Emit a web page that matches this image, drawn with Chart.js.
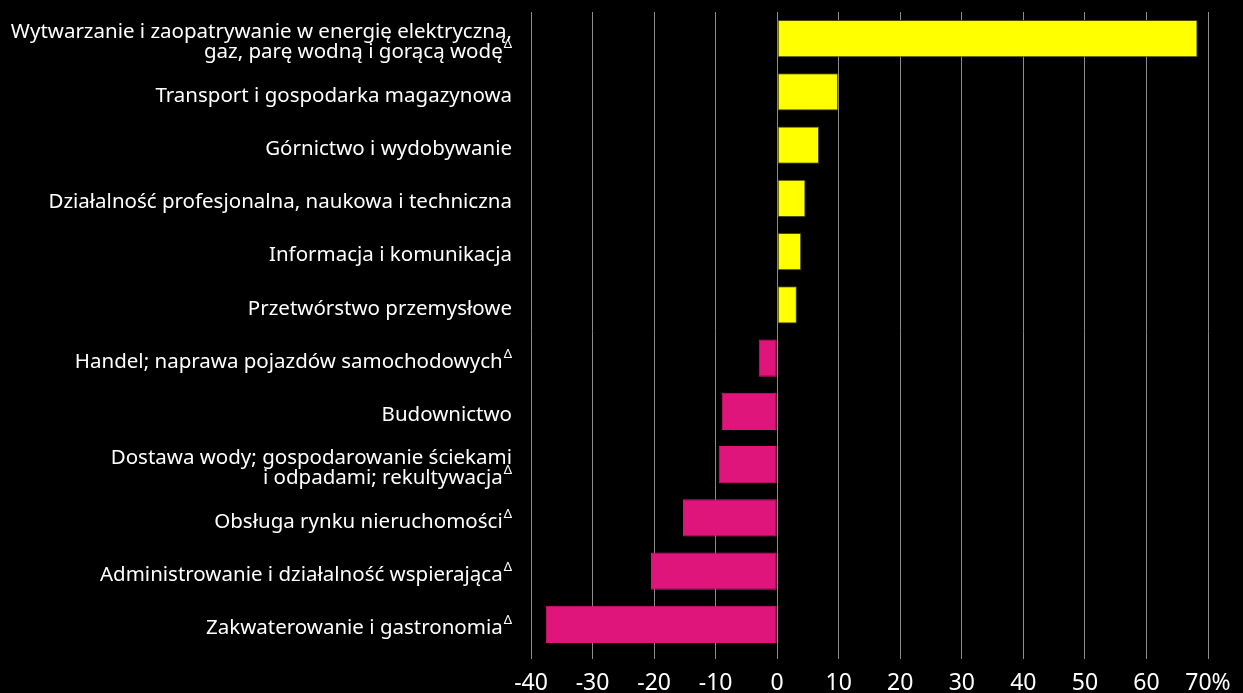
<!DOCTYPE html>
<html>
<head>
<meta charset="utf-8">
<script src="https://cdn.jsdelivr.net/npm/chart.js@4/dist/chart.umd.min.js"></script>
<style>
  html, body { margin: 0; padding: 0; background: #000; }
  #wrap { width: 1243px; height: 693px; position: relative; }
</style>
</head>
<body>
<div id="wrap"><canvas id="myChart"></canvas></div>
<script>
// categories (lines of each label) and whether it carries the Δ mark
const categories = [
    ['Wytwarzanie i zaopatrywanie w energię elektryczną,', 'gaz, parę wodną i gorącą wodę'],
    ['Transport i gospodarka magazynowa'],
    ['Górnictwo i wydobywanie'],
    ['Działalność profesjonalna, naukowa i techniczna'],
    ['Informacja i komunikacja'],
    ['Przetwórstwo przemysłowe'],
    ['Handel; naprawa pojazdów samochodowych'],
    ['Budownictwo'],
    ['Dostawa wody; gospodarowanie ściekami', 'i odpadami; rekultywacja'],
    ['Obsługa rynku nieruchomości'],
    ['Administrowanie i działalność wspierająca'],
    ['Zakwaterowanie i gastronomia']
];
const deltaMark = [true, false, false, false, false, false, true, false, true, true, true, true];
const values = [68.3, 9.9, 6.8, 4.6, 3.9, 3.2, -3.0, -9.0, -9.5, -15.3, -20.5, -37.6];
const tickValues = [-40, -30, -20, -10, 0, 10, 20, 30, 40, 50, 60, 70];

const labelFont = '20.5px "Noto Sans"';
const deltaFont = '13px "Noto Sans"';

// draws the category labels with a superscript Δ
const categoryLabels = {
    id: 'categoryLabels',
    afterDraw(chart) {
        const ctx = chart.ctx;
        const y = chart.scales.y;
        const right = chart.chartArea.left - 19;
        ctx.save();
        ctx.fillStyle = '#fff';
        ctx.textBaseline = 'middle';
        categories.forEach((lines, i) => {
            const cy = y.getPixelForValue(i) + 4;
            const lh = 20;
            const startY = cy - (lines.length - 1) * lh / 2;
            lines.forEach((line, j) => {
                const ly = startY + j * lh;
                let x = right;
                if (deltaMark[i] && j === lines.length - 1) {
                    ctx.font = deltaFont;
                    ctx.textAlign = 'right';
                    ctx.fillText('Δ', x, ly - 8);
                    x -= ctx.measureText('Δ').width + 1;
                }
                ctx.font = labelFont;
                ctx.textAlign = 'right';
                ctx.fillText(line, x, ly);
            });
        });
        ctx.restore();
    }
};

const ctx = document.getElementById('myChart');
new Chart(ctx, {
    type: 'bar',
    data: {
        labels: categories.map(c => c.join(' ')),
        datasets: [{
            data: values,
            backgroundColor: values.map(v => v >= 0 ? '#ffff00' : '#df157b'),
            borderColor: values.map(v => v >= 0 ? '#4a4a00' : '#df157b'),
            borderWidth: 1,
            borderSkipped: false,
            barPercentage: 0.7,
            categoryPercentage: 1
        }]
    },
    options: {
        indexAxis: 'y',
        responsive: true,
        maintainAspectRatio: false,
        animation: false,
        layout: {
            padding: { left: 531, right: 35, top: 12, bottom: 0 }
        },
        scales: {
            x: {
                min: -40,
                max: 70,
                afterBuildTicks: axis => {
                    axis.ticks = tickValues.map(v => ({ value: v }));
                },
                afterFit: axis => {
                    axis.height = 42;
                },
                border: { display: false },
                grid: {
                    color: '#8c8c8c',
                    lineWidth: 1,
                    tickLength: 8
                },
                ticks: {
                    color: '#fff',
                    padding: 11,
                    font: { family: '"Noto Sans"', size: 23 },
                    callback: v => v === 70 ? '70%' : v
                }
            },
            y: {
                display: false,
                grid: { display: false }
            }
        },
        plugins: {
            legend: { display: false },
            tooltip: { enabled: false }
        }
    },
    plugins: [categoryLabels]
});
</script>
</body>
</html>
